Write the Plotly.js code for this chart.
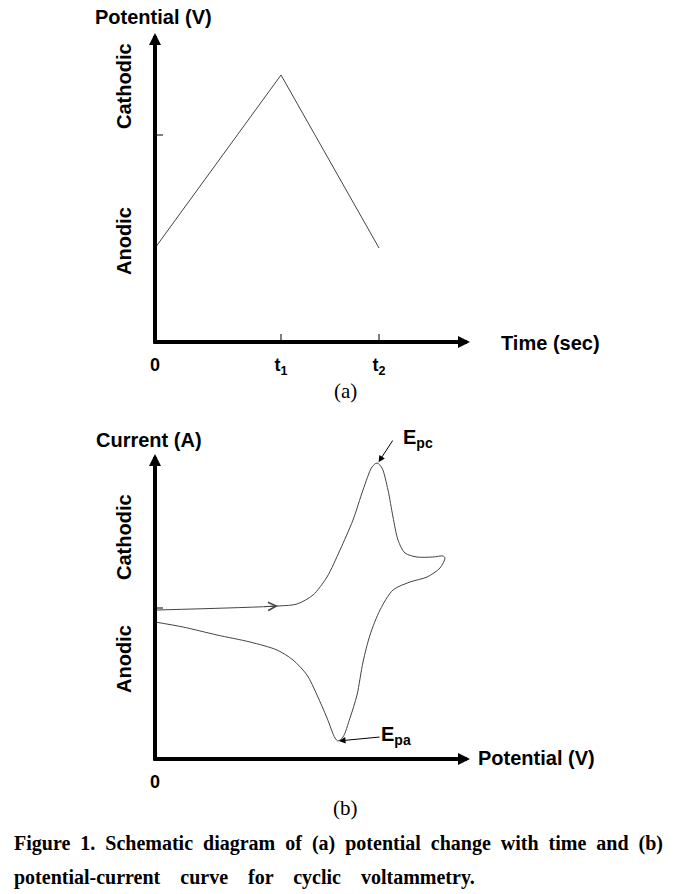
<!DOCTYPE html>
<html>
<head>
<meta charset="utf-8">
<script src="https://cdn.plot.ly/plotly-3.0.1.min.js"></script>
<style>
body { margin: 0; background: #fff; }
#graf { width: 697px; height: 894px; }
</style>
</head>
<body>
<div id="graf"></div>
<script>
// (a) potential vs time
let casTocke = [0, 1, 1.778];
let potencialTocke = [0.94, 2.67, 0.94];
let casOznakeVr = [0, 1, 1.778];
let casOznake = ['0', 't<sub>1</sub>', 't<sub>2</sub>'];
let potencialMeja = 2.07;

// (b) cyclic voltammogram
let napetost = [0.02, 1.23, 1.42, 1.58, 1.72, 1.85, 1.98, 2.08, 2.17, 2.22, 2.27, 2.33, 2.38, 2.43, 2.50, 2.62, 2.78, 2.88, 2.90,
    2.85, 2.72, 2.55, 2.38, 2.25, 2.15, 2.08, 2.02, 1.95, 1.88, 1.83, 1.80, 1.72, 1.62, 1.52, 1.38, 1.22, 0.95, 0.62, 0.28, 0.00];
let tok = [-0.02, 0.02, 0.04, 0.13, 0.31, 0.58, 0.88, 1.18, 1.41, 1.45, 1.40, 1.18, 0.91, 0.68, 0.55, 0.51, 0.51, 0.52, 0.50,
    0.40, 0.31, 0.26, 0.18, -0.02, -0.27, -0.54, -0.87, -1.10, -1.29, -1.33, -1.30, -1.10, -0.87, -0.67, -0.52, -0.42, -0.34, -0.27, -0.19, -0.14];
let vrhKatodni = [2.23, 1.45];
let vrhAnodni = [1.83, -1.33];
let napetostOznakeVr = [0];
let napetostOznake = ['0'];
let tokMeja = 0;

let sans = 'Liberation Sans, Arial, sans-serif';
let serif = 'Liberation Serif, Times New Roman, serif';
let crna = '#000';
let sp = '\u00A0';

function puscicaOsi(xref, yref, x0, y0, x1, y1) { // thick axis with filled head
    return {
        xref: xref, yref: yref, axref: xref, ayref: yref,
        x: x1, y: y1, ax: x0, ay: y0, text: '', showarrow: true,
        arrowhead: 2, arrowsize: 0.6, arrowwidth: 4, arrowcolor: crna, standoff: 0, borderpad: 0
    };
}

function napis(text, x, y, opts) {
    return Object.assign({
        xref: 'paper', yref: 'paper', x: x / 697, y: 1 - y / 894, text: text, showarrow: false,
        xanchor: 'center', yanchor: 'middle',
        font: { family: sans, size: 20, color: crna, weight: 'bold' }
    }, opts || {});
}

function razmik(s, n) { // wider word gaps, like the justified caption
    return s.split(' ').join(' ' + sp.repeat(n));
}

let data = [
    { x: casTocke, y: potencialTocke, xaxis: 'x', yaxis: 'y', mode: 'lines', line: { color: '#444', width: 1 }, hoverinfo: 'skip' },
    { x: napetost, y: tok, xaxis: 'x2', yaxis: 'y2', mode: 'lines', line: { color: '#444', width: 1, shape: 'spline', smoothing: 0.8 }, hoverinfo: 'skip' }
];

let shapes = [];
casOznakeVr.slice(1).forEach(t => {
    shapes.push({ type: 'line', xref: 'x', yref: 'y', xsizemode: 'data', ysizemode: 'pixel', yanchor: 0, x0: t, x1: t, y0: -8, y1: 8, line: { color: crna, width: 1 } });
});
shapes.push({ type: 'line', xref: 'x', yref: 'y', xsizemode: 'pixel', xanchor: 0, x0: -7, x1: 8, y0: potencialMeja, y1: potencialMeja, line: { color: crna, width: 1 } });
shapes.push({ type: 'line', xref: 'x2', yref: 'y2', xsizemode: 'pixel', xanchor: 0, x0: -7, x1: 8, y0: tokMeja, y1: tokMeja, line: { color: crna, width: 1 } });

let annotations = [
    puscicaOsi('x', 'y', 0, -0.02, 0, 3.09),
    puscicaOsi('x', 'y', -0.016, 0, 2.5, 0),
    puscicaOsi('x2', 'y2', 0, -1.53, 0, 1.54),
    puscicaOsi('x2', 'y2', -0.02, -1.51, 3.15, -1.51),
    // open arrow on the forward sweep
    { xref: 'x2', yref: 'y2', x: 1.23, y: 0.02, ax: -14, ay: 0.6, text: '', showarrow: true, arrowhead: 5, arrowsize: 1.6, arrowwidth: 1, arrowcolor: '#444', standoff: 0, borderpad: 0 },
    // peak markers
    { xref: 'x2', yref: 'y2', axref: 'x2', ayref: 'y2', x: vrhKatodni[0], y: vrhKatodni[1], ax: 2.38, ay: 1.68, text: '', showarrow: true, arrowhead: 2, arrowsize: 1.3, arrowwidth: 1, arrowcolor: crna, standoff: 1, borderpad: 0 },
    { xref: 'x2', yref: 'y2', axref: 'x2', ayref: 'y2', x: vrhAnodni[0], y: vrhAnodni[1], ax: 2.25, ay: -1.29, text: '', showarrow: true, arrowhead: 2, arrowsize: 1.3, arrowwidth: 1, arrowcolor: crna, standoff: 1, borderpad: 0 },
    napis('E<sub>pc</sub>', 401, 438, { xanchor: 'left' }),
    napis('E<sub>pa</sub>', 379, 735, { xanchor: 'left' }),
    // axis labels
    napis('Potential (V)', 153, 17),
    napis('Time (sec)', 499, 343, { xanchor: 'left' }),
    napis('Cathodic', 124, 86, { textangle: -90 }),
    napis('Anodic', 124, 241, { textangle: -90 }),
    napis('Current (A)', 149, 440),
    napis('Potential (V)', 476, 758, { xanchor: 'left' }),
    napis('Cathodic', 124, 537, { textangle: -90 }),
    napis('Anodic', 124, 659, { textangle: -90 }),
    napis('(a)', 345, 391, { font: { family: serif, size: 21, color: crna } }),
    napis('(b)', 345, 808, { font: { family: serif, size: 21, color: crna } }),
    napis(razmik('Figure 1. Schematic diagram of (a) potential change with time and (b)', 1), 12, 843, { xanchor: 'left', font: { family: serif, size: 20, color: crna, weight: 'bold' } }),
    napis(razmik('potential-current curve for cyclic voltammetry.', 3), 12, 877, { xanchor: 'left', font: { family: serif, size: 20, color: crna, weight: 'bold' } })
];

let osX = {
    showgrid: false, zeroline: false, showline: false, ticks: '', tickmode: 'array',
    tickfont: { family: sans, size: 18, color: crna, weight: 'bold' }, ticklabelstandoff: 10, fixedrange: true
};
let osY = { visible: false, showgrid: false, zeroline: false, fixedrange: true };

let layout = {
    width: 697, height: 894,
    margin: { l: 0, r: 0, t: 0, b: 0 },
    paper_bgcolor: '#fff', plot_bgcolor: '#fff',
    showlegend: false,
    xaxis: Object.assign({}, osX, { domain: [155 / 697, 470 / 697], range: [0, 2.5], anchor: 'y', tickvals: casOznakeVr, ticktext: casOznake }),
    yaxis: Object.assign({}, osY, { domain: [552 / 894, 861 / 894], range: [0, 3.09], anchor: 'x' }),
    xaxis2: Object.assign({}, osX, { domain: [155 / 697, 470 / 697], range: [0, 3.15], anchor: 'y2', tickvals: napetostOznakeVr, ticktext: napetostOznake }),
    yaxis2: Object.assign({}, osY, { domain: [135 / 894, 440 / 894], range: [-1.51, 1.54], anchor: 'x2' }),
    shapes: shapes,
    annotations: annotations
};

Plotly.newPlot('graf', data, layout, { staticPlot: true });
</script>
</body>
</html>
